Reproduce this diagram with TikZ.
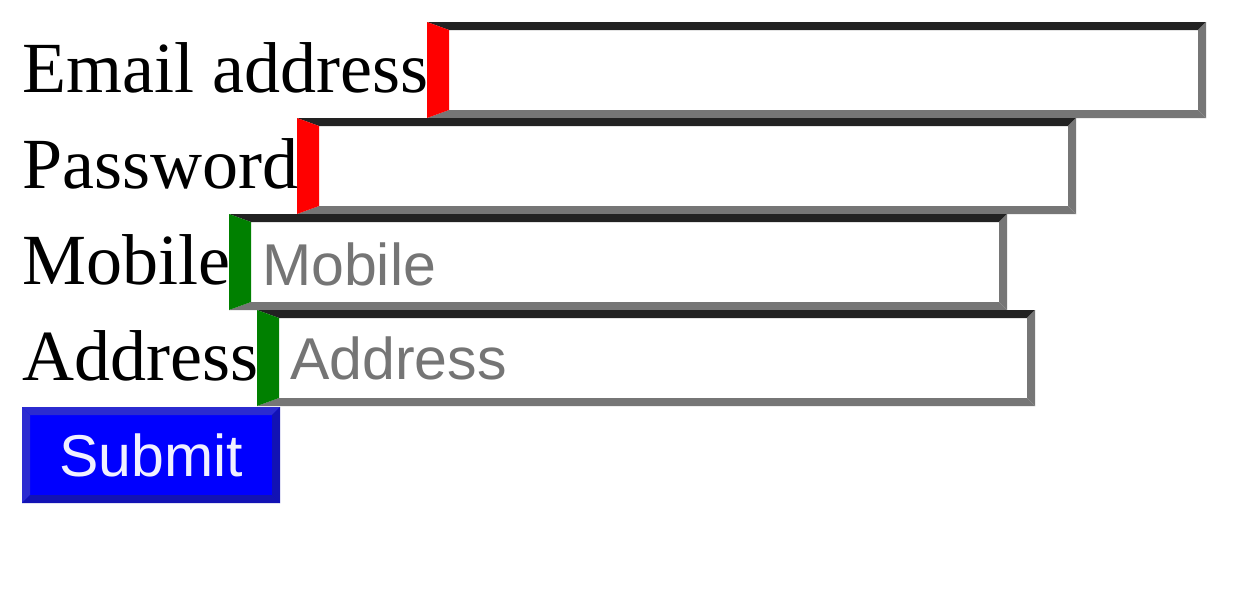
\documentclass[tikz,border=0pt]{standalone}
\usepackage{fontspec}
\setmainfont{Liberation Serif}
\newfontfamily\phfont{Liberation Sans}
\definecolor{bdark}{HTML}{222222}
\definecolor{bgray}{HTML}{767676}
\definecolor{phgray}{HTML}{757575}
\definecolor{okgreen}{HTML}{008000}
\definecolor{btnblue}{HTML}{0000FF}
\definecolor{btnlight}{HTML}{2B2BD0}
\definecolor{btndark}{HTML}{1212B4}
\definecolor{btntext}{HTML}{F0F0FF}
\tikzset{
  lbl/.style={anchor=base west, inner sep=0pt, font=\fontsize{72}{72}\selectfont},
  ph/.style={anchor=base west, inner sep=0pt, text=phgray, font=\phfont\fontsize{59}{59}\selectfont},
  btn/.style={anchor=base, inner sep=0pt, text=btntext, font=\phfont\fontsize{59}{59}\selectfont}
}
% name, x1, y1, x2, y2, left colour
\newcommand\inbox[6]{%
  \fill[white] (#2,#3) rectangle (#4,#5);
  \fill[bdark] (#2,#3) -- (#4,#3) -- ({#4-8},{#3+8}) -- ({#2+22},{#3+8}) -- cycle;
  \fill[bgray] (#4,#3) -- (#4,#5) -- ({#4-8},{#5-8}) -- ({#4-8},{#3+8}) -- cycle;
  \fill[bgray] (#2,#5) -- (#4,#5) -- ({#4-8},{#5-8}) -- ({#2+22},{#5-8}) -- cycle;
  \fill[#6] (#2,#3) -- ({#2+22},{#3+8}) -- ({#2+22},{#5-8}) -- (#2,#5) -- cycle;
  \coordinate (#1) at (#2,#3);
}
\begin{document}
\begin{tikzpicture}[x=1pt,y=-1pt]
\useasboundingbox[fill=white] (0,0) rectangle (1240,589);
% inputs
\inbox{email}{427}{22}{1206}{118}{red}
\inbox{pass}{297}{118}{1076}{214}{red}
\inbox{mobile}{229}{214}{1007}{310}{okgreen}
\inbox{addr}{257}{310}{1035}{406}{okgreen}
% labels
\node[lbl] (lemail) at (22,92) {Email address};
\node[lbl] (lpass) at (22,188) {Password};
\node[lbl] (lmobile) at (22,284) {Mobile};
\node[lbl] (laddr) at (22,380) {Address};
% placeholders
\node[ph] (pmobile) at (262,285) {Mobile};
\node[ph] (paddr) at (290,379) {Address};
% submit button
\fill[btnblue] (22,407) rectangle (280,503);
\fill[btnlight] (22,407) -- (280,407) -- (272,415) -- (30,415) -- cycle;
\fill[btnlight] (22,407) -- (30,415) -- (30,495) -- (22,503) -- cycle;
\fill[btndark] (280,407) -- (280,503) -- (272,495) -- (272,415) -- cycle;
\fill[btndark] (22,503) -- (280,503) -- (272,495) -- (30,495) -- cycle;
\node[btn] (submit) at (151,476) {Submit};
\end{tikzpicture}
\end{document}
